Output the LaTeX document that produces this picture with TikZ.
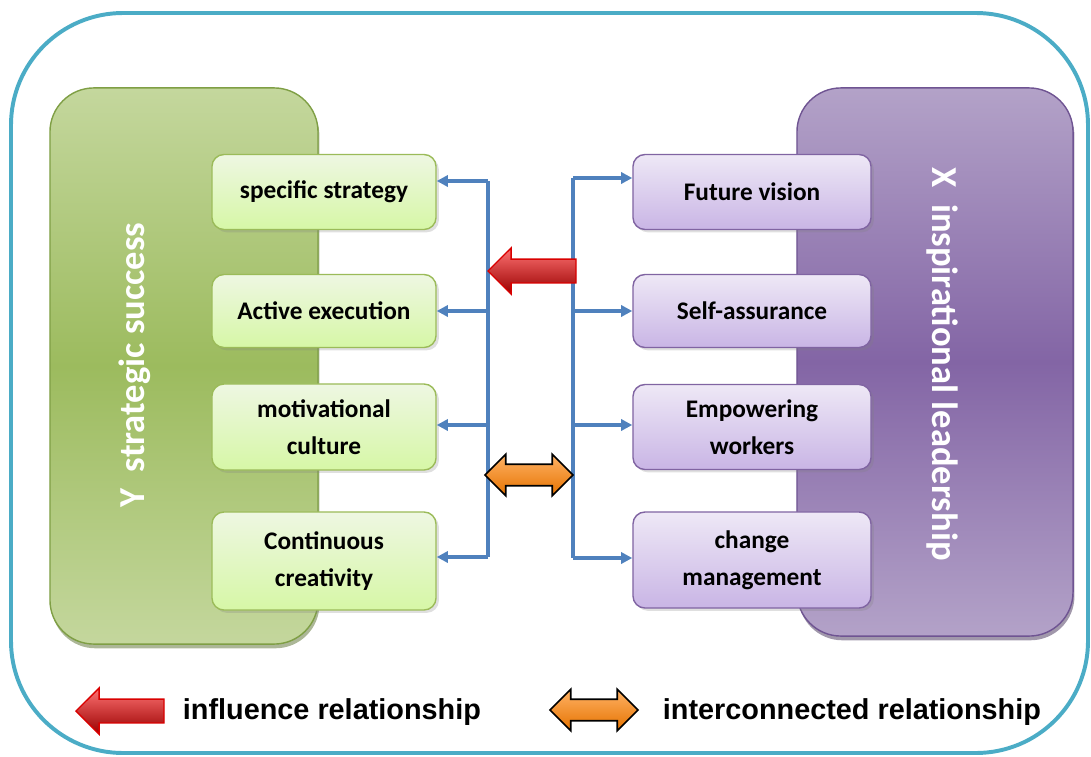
\documentclass[tikz,border=0pt]{standalone}
\usepackage{fontspec}
\setmainfont{Carlito}
\newfontfamily\legendfont{Liberation Sans}
\usetikzlibrary{arrows.meta, shapes.arrows, shadows}

\definecolor{framecol}{HTML}{4BACC6}
\definecolor{linkcol}{HTML}{4F81BD}
\definecolor{ytop}{HTML}{C4D79D}
\definecolor{ymid}{HTML}{9CBB5E}
\definecolor{yline}{HTML}{7F9F45}
\definecolor{xtop}{HTML}{B3A2C8}
\definecolor{xmid}{HTML}{8365A5}
\definecolor{xline}{HTML}{6F5492}
\definecolor{gtop}{HTML}{EEF7E2}
\definecolor{gbot}{HTML}{D6F7A6}
\definecolor{gline}{HTML}{9BBB59}
\definecolor{ptop}{HTML}{EEE8F6}
\definecolor{pbot}{HTML}{C9B5E5}
\definecolor{pline}{HTML}{8064A2}

\begin{document}
\begin{tikzpicture}[x=0.025cm, y=-0.025cm]
\useasboundingbox (0,0) rectangle (1091,756);
\draw[framecol, line width=2.8pt, rounded corners=2.8cm] (11,13) rectangle (1088,753);

% the two big panels
\begin{scope}[every node/.style={rounded corners=1.1cm, draw, line width=1pt}]
    \node (ypanel) at (184,366) [minimum width=6.7cm, minimum height=13.9cm,
        top color=ytop, bottom color=ytop, middle color=ymid, draw=yline,
        drop shadow={shadow xshift=1pt, shadow yshift=-3pt, fill=yline!70!black}] {};
    \node (xpanel) at (935,362) [minimum width=6.9cm, minimum height=13.7cm,
        top color=xtop, bottom color=xtop, middle color=xmid, draw=xline,
        drop shadow={shadow xshift=1pt, shadow yshift=-3pt, fill=xline!60!black}] {};
\end{scope}

\node (ytext) at (135,365) [rotate=90, text=white, font=\bfseries\fontsize{26}{30}\selectfont] {Y\ \ strategic success};
\node (xtext) at (942,364) [rotate=-90, text=white, font=\bfseries\fontsize{26}{30}\selectfont] {X\ \ inspirational leadership};

% dimension boxes
\begin{scope}[every node/.style={rounded corners=0.3cm, draw, line width=1pt, align=center,
        font=\bfseries\fontsize{18}{26}\selectfont,
        drop shadow={shadow xshift=2pt, shadow yshift=-2pt, opacity=.25}}]
    \node (strategy) at (324,192) [minimum width=5.6cm, minimum height=1.875cm, top color=gtop, bottom color=gbot, draw=gline] {specific strategy};
    \node (execution) at (324,311) [minimum width=5.6cm, minimum height=1.825cm, top color=gtop, bottom color=gbot, draw=gline] {Active execution};
    \node (culture) at (324,427) [minimum width=5.6cm, minimum height=2.15cm, top color=gtop, bottom color=gbot, draw=gline] {motivational\\culture};
    \node (creativity) at (324,561) [minimum width=5.6cm, minimum height=2.45cm, top color=gtop, bottom color=gbot, draw=gline] {Continuous\\creativity};

    \node (vision) at (752,192) [minimum width=5.95cm, minimum height=1.875cm, top color=ptop, bottom color=pbot, draw=pline] {Future vision};
    \node (assurance) at (752,311) [minimum width=5.95cm, minimum height=1.825cm, top color=ptop, bottom color=pbot, draw=pline] {Self-assurance};
    \node (empowering) at (752,427) [minimum width=5.95cm, minimum height=2.125cm, top color=ptop, bottom color=pbot, draw=pline] {Empowering\\workers};
    \node (change) at (752,560) [minimum width=5.95cm, minimum height=2.4cm, top color=ptop, bottom color=pbot, draw=pline] {change\\management};
\end{scope}

% bus lines
\coordinate (ltop) at (488,181);
\coordinate (lbot) at (488,557);
\coordinate (rtop) at (573,178);
\coordinate (rbot) at (573,558);

\begin{scope}[>={Triangle[length=8pt, width=8pt]}, every path/.style={draw=linkcol, line width=2.2pt}]
    \path (ltop) -- (lbot);
    \path (rtop) -- (rbot);
    \path [->] (ltop) -- (ltop -| strategy.east);
    \path [->] (488,311) -- (execution.east);
    \path [->] (488,425) -- (culture.east |- 488,425);
    \path [->] (lbot) -- (lbot -| creativity.east);
    \path [->] (rtop) -- (rtop -| vision.west);
    \path [->] (573,311) -- (assurance.west);
    \path [->] (573,425) -- (empowering.west |- 573,425);
    \path [->] (rbot) -- (rbot -| change.west);
\end{scope}

% fat arrows
\tikzset{
    influence/.style={single arrow, shape border rotate=180, minimum height=2.2cm, inner xsep=0pt, inner ysep=8pt,
        single arrow head extend=0.28cm, line width=1pt, draw=red!85!black, top color=red!55!white, bottom color=red!60!black},
    interlink/.style={double arrow, minimum height=2.2cm, inner xsep=0pt, inner ysep=7pt,
        double arrow head extend=0.25cm, line width=1.2pt, draw=black, top color=orange!60!white, bottom color=orange!90!black}
}
\node (infl) at (487,271) [influence, anchor=tip] {};
\node (inter) at (529,475) [interlink] {};

% legend
\node (inflkey) at (75,711) [influence, anchor=tip] {};
\node (infltext) at (178,712) [anchor=west, font=\legendfont\bfseries\fontsize{20.5}{24}\selectfont] {influence relationship};
\node (interkey) at (594,710) [interlink] {};
\node (intertext) at (658,712) [anchor=west, font=\legendfont\bfseries\fontsize{20.5}{24}\selectfont] {interconnected relationship};
\end{tikzpicture}
\end{document}
